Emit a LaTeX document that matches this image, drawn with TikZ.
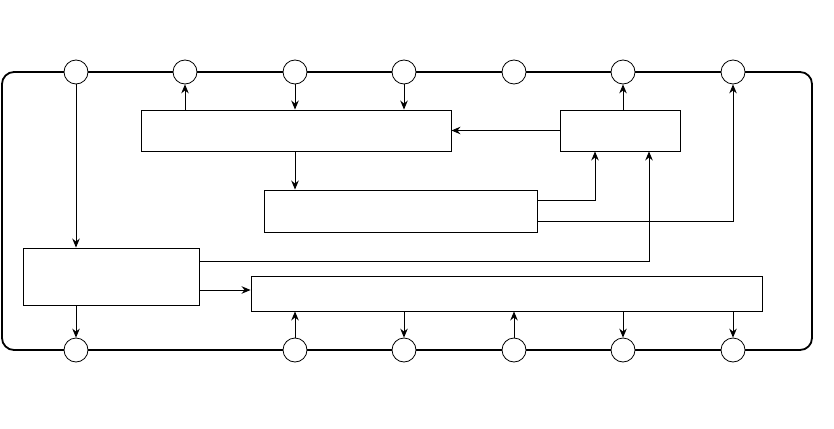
\documentclass[tikz,border=0pt]{standalone}
\usetikzlibrary{arrows.meta}
\begin{document}
\begin{tikzpicture}[x=1pt,y=-1pt,
  port/.style={circle,draw,fill=white,minimum size=24pt,inner sep=0pt,line width=0.8pt},
  blk/.style={draw,line width=0.9pt,inner sep=0pt},
  conn/.style={line width=0.9pt,-{Stealth[length=9pt,width=7.5pt,inset=3pt]}},
  frame/.style={line width=1.8pt,rounded corners=12pt}]
\useasboundingbox (0,0) rectangle (834,428);
\draw[frame] (2,72) rectangle (812,350);
% top ports
\foreach \i/\x in {1/76,2/185,3/295,4/404,5/514,6/623,7/733}
  \node[port] (t\i) at (\x,72) {};
% bottom ports
\foreach \i/\x in {1/76,3/295,4/404,5/514,6/623,7/733}
  \node[port] (b\i) at (\x,350) {};
% blocks
\node[blk,minimum width=310pt,minimum height=41pt] (A) at (296,130.5) {};
\node[blk,minimum width=120pt,minimum height=41pt] (B) at (620,130.5) {};
\node[blk,minimum width=273pt,minimum height=42pt] (C) at (400.5,211) {};
\node[blk,minimum width=176pt,minimum height=57pt] (D) at (111,276.5) {};
\node[blk,minimum width=511pt,minimum height=35pt] (E) at (506.5,293.5) {};
% connectors
\draw[conn] (t1) -- (D.north -| t1);
\draw[conn] (A.north -| t2) -- (t2);
\draw[conn] (t3) -- (A.north -| t3);
\draw[conn] (t4) -- (A.north -| t4);
\draw[conn] (B.west) -- (A.east |- B.west);
\draw[conn] (B.north -| t6) -- (t6);
\draw[conn] (A.south -| t3) -- (C.north -| t3);
\coordinate (c1) at (C.east |- 0,200);
\coordinate (c2) at (C.east |- 0,221);
\coordinate (d1) at (D.east |- 0,261);
\coordinate (d2) at (D.east |- 0,290);
\draw[conn] (c1) -| (B.south -| 595,0);
\draw[conn] (c2) -| (t7);
\draw[conn] (d1) -| (B.south -| 649,0);
\draw[conn] (d2) -- (E.west |- d2);
\draw[conn] (D.south -| b1) -- (b1);
\draw[conn] (b3) -- (E.south -| b3);
\draw[conn] (E.south -| b4) -- (b4);
\draw[conn] (b5) -- (E.south -| b5);
\draw[conn] (E.south -| b6) -- (b6);
\draw[conn] (E.south -| b7) -- (b7);
\end{tikzpicture}
\end{document}
